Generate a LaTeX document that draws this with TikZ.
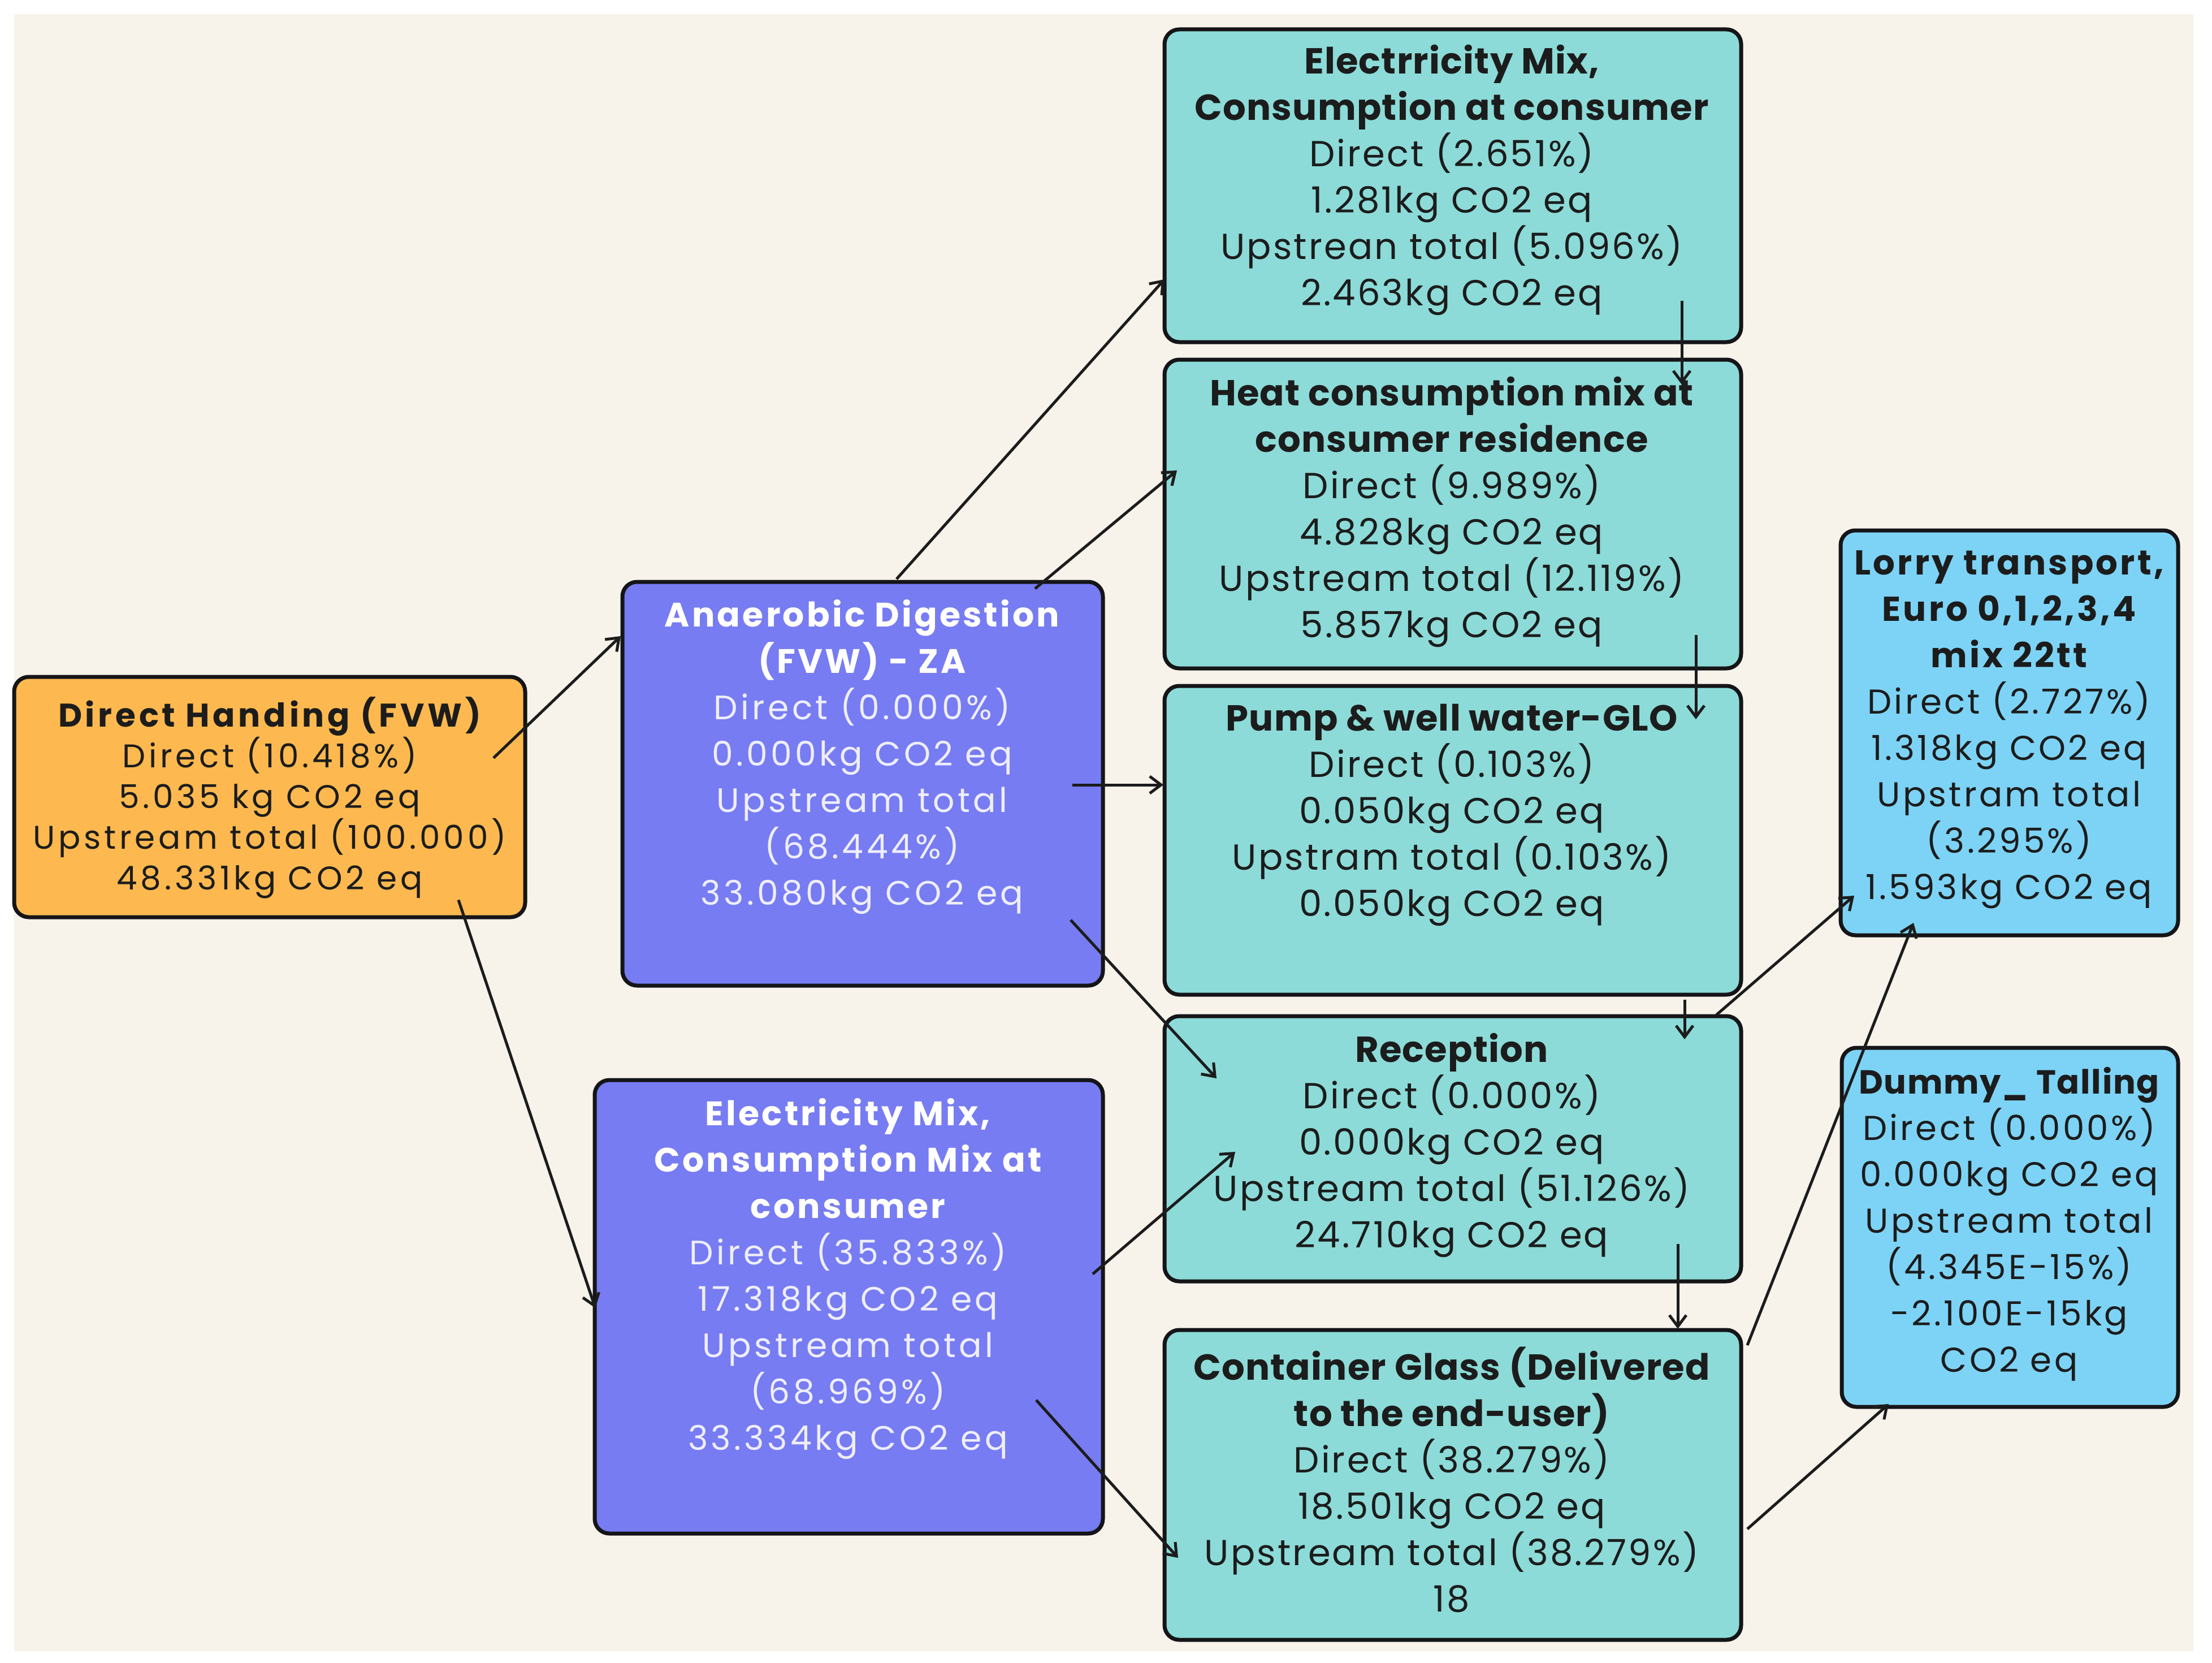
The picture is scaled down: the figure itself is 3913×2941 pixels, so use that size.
\documentclass[tikz,border=0pt]{standalone}
\usepackage{fontspec}
\setmainfont{Poppins}
\newfontfamily\tealbody[LetterSpace=5]{Poppins}
\newfontfamily\tealtitle[LetterSpace=2]{Poppins}
\newfontfamily\purfont[LetterSpace=9]{Poppins}
\newfontfamily\purtitle[LetterSpace=7]{Poppins}
\newfontfamily\orafont[LetterSpace=10]{Poppins}
\newfontfamily\blufont[LetterSpace=7]{Poppins}
\newfontfamily\blutitle[LetterSpace=3]{Poppins}
\usetikzlibrary{arrows.meta}
\definecolor{bgbeige}{HTML}{F7F2EA}
\definecolor{orangebox}{HTML}{FDB94F}
\definecolor{purplebox}{HTML}{777CF2}
\definecolor{tealbox}{HTML}{8CDBD8}
\definecolor{bluebox}{HTML}{7DD3F5}
\definecolor{edge}{HTML}{151518}
\definecolor{ink}{HTML}{1C1C1C}
\definecolor{lightink}{HTML}{EEEEFC}
\newcommand{\tealhead}[1]{{\tealtitle\bfseries\fontsize{64}{82}\selectfont #1}}
\newcommand{\purhead}[1]{{\purtitle\bfseries\color{white}\fontsize{60}{82}\selectfont #1}}
\tikzset{
  box/.style={draw=edge, line width=7pt, rounded corners=26pt, inner sep=0pt},
  tealtxt/.style={align=center, text=ink, font=\tealbody\fontsize{64}{82}\selectfont, inner sep=0pt},
  purtxt/.style={align=center, text=lightink, font=\purfont\fontsize{60}{82}\selectfont, inner sep=0pt},
  oratxt/.style={align=center, text=ink, font=\orafont\fontsize{58}{72}\selectfont, inner sep=0pt},
  blutxt/.style={align=center, text=ink, font=\blufont\fontsize{61}{82}\selectfont, inner sep=0pt},
  link/.style={draw=ink, line width=5pt, -{Straight Barb[length=20pt,width=30pt,line width=5pt]}},
}
\begin{document}
\begin{tikzpicture}[x=1pt,y=-1pt]
\useasboundingbox (0,0) rectangle (3913,2941);
\fill[white] (0,0) rectangle (3913,2941);
\fill[bgbeige] (25,25) rectangle (3880,2920);

% boxes
\node[box, fill=orangebox, minimum width=904pt, minimum height=425pt] (dh) at (477,1409.5) {};
\node[box, fill=purplebox, minimum width=850pt, minimum height=714pt] (ad) at (1526,1386) {};
\node[box, fill=purplebox, minimum width=899pt, minimum height=802pt] (ep) at (1501.5,2311) {};
\node[box, fill=tealbox, minimum width=1020pt, minimum height=553pt] (te) at (2570,328.5) {};
\node[box, fill=tealbox, minimum width=1020pt, minimum height=546pt] (hc) at (2570,909) {};
\node[box, fill=tealbox, minimum width=1020pt, minimum height=546pt] (pw) at (2570,1486) {};
\node[box, fill=tealbox, minimum width=1020pt, minimum height=469pt] (rc) at (2570,2031.5) {};
\node[box, fill=tealbox, minimum width=1020pt, minimum height=548pt] (cg) at (2570,2626) {};
\node[box, fill=bluebox, minimum width=597pt, minimum height=716pt] (lt) at (3554.5,1296) {};
\node[box, fill=bluebox, minimum width=595pt, minimum height=635pt] (dt) at (3555.5,2170.5) {};

% texts
\node[oratxt] (dhtext) at (477,1411) {{\bfseries Direct Handing (FVW)}\\Direct (10.418\%)\\5.035 kg CO2 eq\\Upstream total (100.000)\\48.331kg CO2 eq};
\node[purtxt] (adtext) at (1525,1339) {\purhead{Anaerobic Digestion}\\\purhead{(FVW) - ZA}\\Direct (0.000\%)\\0.000kg CO2 eq\\Upstream total\\(68.444\%)\\33.080kg CO2 eq};
\node[purtxt] (eptext) at (1500,2262) {\purhead{Electricity Mix,}\\\purhead{Consumption Mix at}\\\purhead{consumer}\\Direct (35.833\%)\\17.318kg CO2 eq\\Upstream total\\(68.969\%)\\33.334kg CO2 eq};
\node[tealtxt] (tetext) at (2568,319) {\tealhead{Electrricity Mix,}\\\tealhead{Consumption at consumer}\\Direct (2.651\%)\\1.281kg CO2 eq\\Upstrean total (5.096\%)\\2.463kg CO2 eq};
\node[tealtxt] (hctext) at (2568,905) {\tealhead{Heat consumption mix at}\\\tealhead{consumer residence}\\Direct (9.989\%)\\4.828kg CO2 eq\\Upstream total (12.119\%)\\5.857kg CO2 eq};
\node[tealtxt] (pwtext) at (2568,1441) {\tealhead{Pump \& well water-GLO}\\Direct (0.103\%)\\0.050kg CO2 eq\\Upstram total (0.103\%)\\0.050kg CO2 eq};
\node[tealtxt] (rctext) at (2568,2025) {\tealhead{Reception}\\Direct (0.000\%)\\0.000kg CO2 eq\\Upstream total (51.126\%)\\24.710kg CO2 eq};
\node[tealtxt] (cgtext) at (2568,2617) {\tealhead{Container Glass (Delivered}\\\tealhead{to the end-user)}\\Direct (38.279\%)\\18.501kg CO2 eq\\Upstream total (38.279\%)\\18};
\node[blutxt] (lttext) at (3554,1290) {{\bfseries Lorry transport,}\\{\bfseries Euro 0,1,2,3,4}\\{\bfseries mix 22tt}\\Direct (2.727\%)\\1.318kg CO2 eq\\Upstram total\\(3.295\%)\\1.593kg CO2 eq};
\node[blutxt] (dttext) at (3554,2165) {{\blutitle\bfseries\fontsize{59}{82}\selectfont Dummy\_ Talling}\\Direct (0.000\%)\\0.000kg CO2 eq\\Upstream total\\(4.345E-15\%)\\-2.100E-15kg\\CO2 eq};

% connectors (offsets from node centres)
\draw[link] ([shift={(396,-69)}]dh.center) -- ([shift={(-428,-261)}]ad.center);
\draw[link] ([shift={(334,182)}]dh.center) -- ([shift={(-448.5,2)}]ep.center);
\draw[link] ([shift={(60,-362)}]ad.center) -- ([shift={(-510,165.5)}]te.center);
\draw[link] ([shift={(305,-345)}]ad.center) -- ([shift={(-488,-77)}]hc.center);
\draw[link] ([shift={(371,2)}]ad.center) -- ([shift={(-512,-98)}]pw.center);
\draw[link] ([shift={(368,241)}]ad.center) -- ([shift={(-418,-124.5)}]rc.center);
\draw[link] ([shift={(431.5,-58)}]ep.center) -- ([shift={(-385,5.5)}]rc.center);
\draw[link] ([shift={(331.5,165)}]ep.center) -- ([shift={(-486,129)}]cg.center);
\draw[link] ([shift={(405,203.5)}]te.center) -- ([shift={(405,-229)}]hc.center);
\draw[link] ([shift={(430,214)}]hc.center) -- ([shift={(430,-214)}]pw.center);
\draw[link] ([shift={(410,282)}]pw.center) -- ([shift={(410,-193.5)}]rc.center);
\draw[link] ([shift={(398,168.5)}]rc.center) -- ([shift={(398,-276)}]cg.center);
\draw[link] ([shift={(466,-236.5)}]rc.center) -- ([shift={(-274.5,288)}]lt.center);
\draw[link] ([shift={(521,-247)}]cg.center) -- ([shift={(-169.5,336)}]lt.center);
\draw[link] ([shift={(521,78)}]cg.center) -- ([shift={(-214.5,312.5)}]dt.center);
\end{tikzpicture}
\end{document}
